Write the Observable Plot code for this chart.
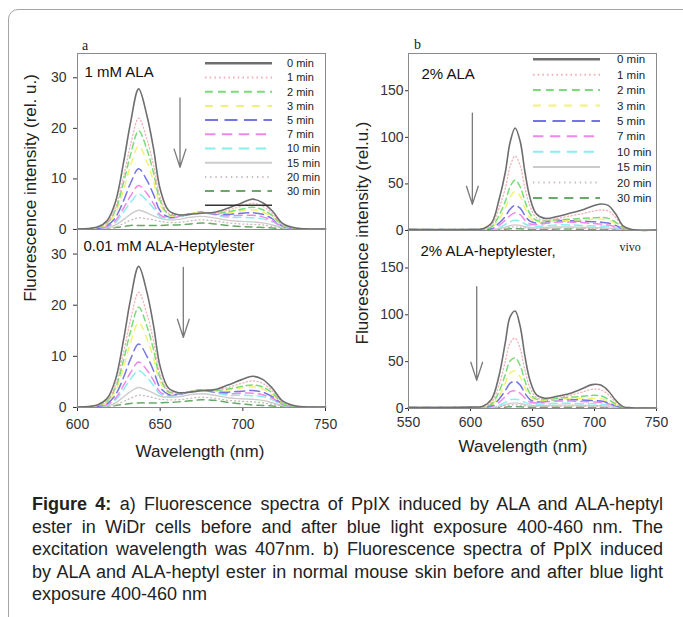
<!DOCTYPE html>
<html><head><meta charset="utf-8">
<script src="https://cdn.jsdelivr.net/npm/d3@7"></script>
<script src="https://cdn.jsdelivr.net/npm/@observablehq/plot@0.6"></script>
<style>
html,body{margin:0;padding:0;background:#fff;}
#fig{position:relative;width:683px;height:617px;overflow:hidden;background:#fff;font-family:"Liberation Sans",Arial,sans-serif;color:#222;}
.abs{position:absolute;}
.rot{position:absolute;transform:translate(-50%,-50%) rotate(-90deg);white-space:nowrap;font-size:17px;}
.xl{position:absolute;transform:translate(-50%,-50%);white-space:nowrap;font-size:17px;}
.pl{position:absolute;font-family:"Liberation Serif","Times New Roman",serif;font-size:14px;line-height:14px;}
#border{position:absolute;left:8px;top:9px;width:700px;height:640px;border:1px solid #a5a5a5;border-radius:10px;}
#cap{position:absolute;left:32px;top:493px;width:631px;font-size:18px;line-height:22.5px;}
#cap div{text-align:justify;text-align-last:justify;}
#cap div.last{text-align:left;text-align-last:left;}
</style>
</head><body>
<div id="fig">
  <div id="border"></div>
</div>
<script>
// ---------- data ----------
const seriesLabels = ["0 min","1 min","2 min","3 min","5 min","7 min","10 min","15 min","20 min","30 min"];

// panel a: wavelength grid (nm)
const gridA = [600, 612, 618, 623, 628, 632, 637, 642, 646, 650, 655, 661, 668, 675, 683, 691, 699, 706, 712, 718, 724, 732, 750];
// 1 mM ALA (WiDr cells)
const alaCells = [
  [0.1, 0.5, 1.8, 5.5, 13.5, 21, 27.8, 22.5, 16, 8, 3.8, 2.9, 3.0, 3.2, 3.4, 4.2, 5.2, 6.0, 5.3, 3.6, 1.2, 0.3, 0.1],
  [0.1, 0.4, 1.4, 4.4, 10.7, 16.6, 22, 17.8, 12.7, 6.4, 3.2, 2.9, 3.1, 3.3, 3.3, 3.8, 4.6, 5.2, 4.6, 3.1, 1.0, 0.3, 0.1],
  [0.1, 0.4, 1.3, 3.9, 9.5, 14.7, 19.5, 15.8, 11.2, 5.7, 3.0, 2.8, 3.1, 3.3, 3.2, 3.5, 4.0, 4.4, 3.9, 2.7, 0.9, 0.2, 0.1],
  [0.1, 0.3, 1.1, 3.3, 8, 12.5, 16.5, 13.4, 9.5, 4.9, 2.8, 2.7, 3.1, 3.4, 3.2, 3.3, 3.7, 3.9, 3.5, 2.4, 0.8, 0.2, 0.1],
  [0.1, 0.2, 0.8, 2.4, 5.8, 9.1, 12, 9.7, 6.9, 3.7, 2.5, 2.6, 3.1, 3.4, 3.1, 3.0, 3.2, 3.3, 3.0, 2.1, 0.7, 0.2, 0.1],
  [0.1, 0.2, 0.6, 1.8, 4.3, 6.6, 8.7, 7.1, 5.1, 2.9, 2.3, 2.5, 3.1, 3.4, 3.0, 2.7, 2.8, 2.8, 2.5, 1.7, 0.6, 0.2, 0.1],
  [0.1, 0.1, 0.5, 1.4, 3.5, 5.3, 7.0, 5.7, 4.2, 2.5, 2.2, 2.4, 3.0, 3.3, 2.9, 2.4, 2.4, 2.3, 2.1, 1.5, 0.5, 0.1, 0.1],
  [0.1, 0.1, 0.3, 0.9, 2.0, 3.0, 3.8, 3.3, 2.7, 2.2, 1.9, 2.0, 2.4, 2.6, 2.3, 1.8, 1.6, 1.5, 1.3, 0.9, 0.4, 0.1, 0.1],
  [0.1, 0.1, 0.2, 0.5, 1.2, 1.8, 2.3, 2.1, 1.9, 1.6, 1.4, 1.4, 1.7, 1.9, 1.7, 1.3, 1.1, 1.0, 0.9, 0.6, 0.3, 0.1, 0.05],
  [0.05, 0.1, 0.2, 0.4, 0.6, 0.8, 0.8, 0.8, 0.8, 0.8, 0.9, 0.9, 1.1, 1.3, 1.1, 0.8, 0.6, 0.5, 0.4, 0.3, 0.1, 0.05, 0.05]
];
// 0.01 mM ALA-heptylester (WiDr cells)
const heptylCells = [
  [0.1, 0.5, 1.8, 5.5, 13.5, 21, 27.6, 22.5, 16, 8, 3.8, 2.9, 3.0, 3.3, 3.5, 4.4, 5.4, 6.1, 5.5, 3.7, 1.3, 0.3, 0.1],
  [0.1, 0.4, 1.4, 4.5, 11, 17, 22.5, 18.3, 13, 6.5, 3.3, 2.9, 3.1, 3.3, 3.4, 3.9, 4.7, 5.2, 4.7, 3.2, 1.1, 0.3, 0.1],
  [0.1, 0.4, 1.3, 3.9, 9.5, 14.8, 19.6, 15.9, 11.3, 5.8, 3.1, 2.8, 3.1, 3.4, 3.3, 3.6, 4.1, 4.4, 4.0, 2.8, 0.9, 0.2, 0.1],
  [0.1, 0.3, 1.1, 3.3, 8, 12.6, 16.6, 13.5, 9.6, 5, 2.9, 2.7, 3.1, 3.4, 3.2, 3.4, 3.8, 4.0, 3.6, 2.5, 0.8, 0.2, 0.1],
  [0.1, 0.2, 0.8, 2.5, 6, 9.4, 12.4, 10, 7.2, 3.9, 2.6, 2.6, 3.1, 3.4, 3.1, 3.0, 3.2, 3.3, 3.0, 2.1, 0.7, 0.2, 0.1],
  [0.1, 0.2, 0.6, 1.8, 4.4, 6.8, 8.9, 7.3, 5.3, 3.0, 2.4, 2.5, 3.1, 3.4, 3.0, 2.7, 2.8, 2.8, 2.5, 1.8, 0.6, 0.2, 0.1],
  [0.1, 0.1, 0.5, 1.5, 3.6, 5.5, 7.2, 5.9, 4.3, 2.6, 2.3, 2.4, 3.0, 3.3, 2.9, 2.4, 2.4, 2.3, 2.1, 1.5, 0.5, 0.1, 0.1],
  [0.1, 0.1, 0.3, 0.9, 2.1, 3.1, 3.9, 3.4, 2.8, 2.2, 2.0, 2.1, 2.5, 2.7, 2.4, 1.9, 1.7, 1.6, 1.4, 0.9, 0.4, 0.1, 0.1],
  [0.1, 0.1, 0.2, 0.5, 1.2, 1.8, 2.4, 2.2, 1.9, 1.6, 1.5, 1.5, 1.8, 2.0, 1.8, 1.4, 1.2, 1.1, 0.9, 0.6, 0.3, 0.1, 0.05],
  [0.05, 0.1, 0.2, 0.4, 0.6, 0.8, 0.9, 0.9, 0.9, 0.9, 1.0, 1.1, 1.3, 1.5, 1.4, 1.0, 0.7, 0.5, 0.4, 0.3, 0.1, 0.05, 0.05]
];

// panel b: wavelength grid (nm)
const gridB = [550, 600, 610, 617, 623, 628, 632, 636, 640, 644, 648, 653, 660, 670, 680, 690, 698, 705, 711, 717, 723, 730, 750];
// 2% ALA (mouse skin)
const alaSkin = [
  [1, 1, 2, 8, 33, 62, 95, 110, 96, 62, 35, 18, 13, 15, 18.5, 22, 26, 28.5, 27, 18, 5, 1, 0.5],
  [1, 1, 1.6, 6, 24, 45, 69, 80, 70, 45, 26, 14, 11, 13, 15.5, 18, 20.5, 22, 21, 14, 4, 1, 0.5],
  [1, 1, 1.2, 4, 16, 31, 47, 54, 47, 31, 18, 11, 10.5, 11.5, 12, 13, 13.5, 14, 13, 9, 3, 0.8, 0.5],
  [1, 1, 1, 3, 12, 24, 36, 42, 37, 24, 14, 9.5, 9.5, 10.5, 11, 11.5, 12, 12, 11, 7.5, 2.5, 0.7, 0.5],
  [1, 1, 1, 2, 8, 15, 23, 27, 24, 16, 10, 8, 9, 10.5, 10.5, 10, 9.5, 9, 8, 5.5, 2, 0.6, 0.5],
  [1, 1, 0.8, 1.5, 5.5, 11, 16, 19, 17, 11, 7, 6.5, 7.5, 9, 9, 8.5, 7.5, 7, 6, 4, 1.5, 0.5, 0.5],
  [1, 1, 0.8, 1.2, 3, 6.5, 9.5, 11, 10, 7, 5, 4.5, 5, 6, 6, 5.5, 5, 4.8, 4.2, 3, 1.2, 0.5, 0.5],
  [1, 1, 0.8, 1, 2, 3.5, 5.2, 6, 5.5, 4, 3, 2.8, 3.2, 3.8, 3.8, 3.5, 3.2, 3, 2.6, 2, 0.8, 0.4, 0.4],
  [0.8, 0.8, 0.7, 0.9, 1.5, 2.5, 3.5, 4, 3.7, 2.8, 2.2, 2, 2.3, 2.6, 2.6, 2.4, 2.2, 2, 1.8, 1.3, 0.6, 0.3, 0.3],
  [0.5, 0.5, 0.5, 0.6, 0.9, 1.3, 1.8, 2, 1.9, 1.5, 1.2, 1.1, 1.3, 1.5, 1.5, 1.4, 1.2, 1.1, 1, 0.8, 0.4, 0.2, 0.2]
];
// 2% ALA-heptylester (mouse skin)
const heptylSkin = [
  [1, 1.5, 2.5, 10, 35, 70, 98, 104, 88, 55, 30, 15, 11, 13, 16, 21, 25.5, 25, 19, 9, 2, 0.8, 0.5],
  [1, 1.2, 2, 7, 25, 50, 70, 75, 64, 40, 22, 12, 10, 12, 14, 17.5, 20.5, 20, 15, 7, 1.7, 0.7, 0.5],
  [1, 1, 1.5, 5, 18, 36, 51, 54, 46, 29, 16, 10, 9.5, 11, 12, 13, 14, 13.5, 10, 5, 1.3, 0.6, 0.5],
  [1, 1, 1.2, 4, 13, 27, 38, 40, 34, 22, 12.5, 8.5, 8.5, 10, 10.5, 11, 11, 10.5, 8, 4, 1.1, 0.5, 0.5],
  [1, 1, 1, 3, 10, 19, 27, 29, 25, 16, 9.5, 7, 8, 9.5, 9.5, 9, 8.5, 8, 6, 3, 1, 0.5, 0.5],
  [1, 1, 0.9, 2, 6.5, 12.5, 18, 19, 16.5, 11, 7, 6, 7, 8, 8, 7.5, 7, 6.5, 5, 2.5, 0.9, 0.5, 0.5],
  [1, 1, 0.8, 1.5, 3.5, 6.5, 9.3, 10, 9, 6.5, 5, 4.5, 5, 5.5, 5.5, 5.2, 5, 4.6, 3.5, 2, 0.8, 0.4, 0.4],
  [1, 1, 0.8, 1.1, 2.2, 4, 5.5, 6, 5.5, 4.2, 3.3, 3, 3.3, 3.6, 3.6, 3.4, 3.1, 2.9, 2.2, 1.3, 0.6, 0.4, 0.4],
  [0.8, 0.8, 0.7, 0.9, 1.6, 2.7, 3.6, 4, 3.7, 2.9, 2.3, 2.1, 2.3, 2.5, 2.5, 2.3, 2.1, 1.9, 1.5, 0.9, 0.4, 0.3, 0.3],
  [0.5, 0.5, 0.5, 0.6, 0.9, 1.4, 1.8, 2, 1.9, 1.6, 1.3, 1.2, 1.3, 1.4, 1.4, 1.3, 1.2, 1.1, 0.9, 0.6, 0.3, 0.2, 0.2]
];

// arrows (wavelength, from value, to value): a-top, a-bottom, b-top, b-bottom
const arrowWave = [662, 664, 601.5, 605];
const arrowFrom = [26, 27.4, 126, 130];
const arrowTo = [12.3, 13.7, 28, 30];

const panelTitles = ["1 mM ALA", "0.01 mM ALA-Heptylester", "2% ALA", "2% ALA-heptylester,"];
const ticksAx = [600, 650, 700, 750];
const ticksAy = [0, 10, 20, 30];
const ticksBx = [550, 600, 650, 700, 750];
const ticksBy = [0, 50, 100, 150];

// ---------- styles ----------
const seriesColors = ["#6e6e6e","#f2b0b8","#78dc78","#f2f270","#7474e4","#f088ec","#88eeee","#cccccc","#c9b9b9","#66aa66"];
const seriesDash = [null,"1.2,2.4","6,4","6,6","10,5","8,5","8,5",null,"1,3","7,5"];
const seriesWidth = [1.6,1.3,1.5,1.5,1.5,1.5,1.5,1.4,1.3,1.5];

const fig = document.getElementById("fig");
const FONT = '"Liberation Sans", Arial, sans-serif';

function makePanel(o) {
  const rows = [];
  o.values.forEach((arr, s) => arr.forEach((v, i) => rows.push({s, w: o.grid[i], v})));
  const marks = [];
  for (let s = seriesLabels.length - 1; s >= 0; s--) {
    marks.push(Plot.line(rows.filter(d => d.s === s), {
      x: "w", y: "v", stroke: seriesColors[s], strokeWidth: seriesWidth[s],
      strokeDasharray: seriesDash[s] || undefined, curve: "catmull-rom"
    }));
  }
  const ai = o.arrowIndex;
  marks.push(Plot.arrow([{x: arrowWave[ai], a: arrowFrom[ai], b: arrowTo[ai]}], {
    x1: "x", x2: "x", y1: "a", y2: "b", stroke: "#7a7a7a", strokeWidth: 1.3,
    headAngle: 36, headLength: 22
  }));
  marks.push(Plot.text([panelTitles[ai]], {
    frameAnchor: "top-left", textAnchor: "start", lineAnchor: "top",
    dx: o.tdx, dy: o.tdy, fontSize: 15, fill: "#111"
  }));
  if (o.extraText) marks.push(Plot.text([o.extraText], {
    frameAnchor: "top-right", textAnchor: "start", lineAnchor: "top",
    dx: -37, dy: 12, fontSize: 12, fontFamily: '"Liberation Serif", serif', fill: "#222"
  }));
  marks.push(Plot.frame({stroke: "#8a8a8a"}));
  const chart = Plot.plot({
    width: o.width, height: o.height,
    marginTop: o.mt, marginBottom: o.mb, marginLeft: o.ml, marginRight: o.mr,
    x: {domain: o.xDomain, ticks: o.xTicks, tickSize: o.xts, tickPadding: o.xtp, label: null,
        axis: o.showX ? "bottom" : null, tickFormat: d => String(d)},
    y: {domain: o.yDomain, ticks: o.yTicks, tickSize: o.yts, tickPadding: o.ytp, label: null,
        tickFormat: d => String(d)},
    style: {overflow: "visible", fontFamily: FONT, fontSize: "14px", color: "#333", background: "transparent"},
    marks
  });
  const wrap = document.createElement("div");
  wrap.className = "abs";
  wrap.style.left = o.left + "px";
  wrap.style.top = o.top + "px";
  wrap.appendChild(chart);
  fig.appendChild(wrap);
}

// panel a
makePanel({left: 0, top: 0, width: 345, height: 229, mt: 53, mb: 0, ml: 77, mr: 20,
  xDomain: [600, 750], xTicks: ticksAx, showX: false, xts: 4, xtp: 8,
  yDomain: [0, 34.8], yTicks: ticksAy, yts: 4, ytp: 7,
  grid: gridA, values: alaCells, arrowIndex: 0, tdx: 7, tdy: 13});
makePanel({left: 0, top: 229, width: 345, height: 238, mt: 0, mb: 60, ml: 77, mr: 20,
  xDomain: [600, 750], xTicks: ticksAx, showX: true, xts: 4, xtp: 8,
  yDomain: [0, 34.8], yTicks: ticksAy, yts: 4, ytp: 7,
  grid: gridA, values: heptylCells, arrowIndex: 1, tdx: 6, tdy: 11});
// panel b
makePanel({left: 345, top: 0, width: 338, height: 230, mt: 53, mb: 0, ml: 63, mr: 27,
  xDomain: [550, 750], xTicks: ticksBx, showX: false, xts: 3, xtp: 6,
  yDomain: [0, 190], yTicks: ticksBy, yts: 3, ytp: 2,
  grid: gridB, values: alaSkin, arrowIndex: 2, tdx: 13, tdy: 15});
makePanel({left: 345, top: 230, width: 338, height: 238, mt: 0, mb: 60, ml: 63, mr: 27,
  xDomain: [550, 750], xTicks: ticksBx, showX: true, xts: 3, xtp: 6,
  yDomain: [0, 190], yTicks: ticksBy, yts: 3, ytp: 2,
  grid: gridB, values: heptylSkin, arrowIndex: 3, tdx: 12, tdy: 15, extraText: "vivo"});

// legends (inside the top plots)
function legend(left, top, x1, x2, xt, y0, dy, fs, extraLine) {
  const svg = d3.select(fig).append("svg")
    .attr("class", "abs").style("left", left + "px").style("top", top + "px")
    .attr("width", 345).attr("height", 240).style("overflow", "visible")
    .style("font-family", FONT);
  seriesLabels.forEach((lab, i) => {
    const y = y0 + i * dy;
    svg.append("line").attr("x1", x1).attr("x2", x2).attr("y1", y).attr("y2", y)
      .attr("stroke", seriesColors[i]).attr("stroke-width", i === 0 ? 2.4 : 2)
      .attr("stroke-dasharray", seriesDash[i] ? seriesDash[i].split(",").map(v => v * 1.3).join(",") : null);
    svg.append("text").attr("x", xt).attr("y", y).attr("dy", "0.35em")
      .attr("font-size", fs).attr("fill", "#222").text(lab);
  });
  if (extraLine) {
    const y = y0 + seriesLabels.length * dy;
    svg.append("line").attr("x1", x1).attr("x2", x2).attr("y1", y).attr("y2", y)
      .attr("stroke", "#333").attr("stroke-width", 1.4);
  }
}
legend(0, 0, 205, 272, 287, 63.3, 14.2, 11, true);
legend(345, 0, 188, 255, 272, 59.3, 15.4, 11.5, false);

// panel letters, axis labels
function addDiv(cls, text, css) {
  const d = document.createElement("div");
  d.className = cls; d.textContent = text;
  Object.assign(d.style, css);
  fig.appendChild(d);
}
addDiv("pl", "a", {left: "82px", top: "39px"});
addDiv("pl", "b", {left: "414px", top: "38px"});
addDiv("rot", "Fluorescence intensity (rel. u.)", {left: "30.5px", top: "187.5px"});
addDiv("rot", "Fluorescence intensity (rel.u.)", {left: "363px", top: "232.5px"});
addDiv("xl", "Wavelength (nm)", {left: "200px", top: "451.5px"});
addDiv("xl", "Wavelength (nm)", {left: "523px", top: "446.5px"});

// caption
const capLines = [
  ["Figure 4:", " a) Fluorescence spectra of PpIX induced by ALA and ALA-heptyl"],
  ["", "ester in WiDr cells before and after blue light exposure 400-460 nm.  The"],
  ["", "excitation wavelength was 407nm. b) Fluorescence spectra of PpIX induced"],
  ["", "by ALA and ALA-heptyl ester in normal mouse skin before and after blue light"],
  ["", "exposure 400-460 nm"]
];
const cap = document.createElement("div");
cap.id = "cap";
capLines.forEach((l, i) => {
  const d = document.createElement("div");
  if (i === capLines.length - 1) d.className = "last";
  if (l[0]) { const b = document.createElement("b"); b.textContent = l[0]; d.appendChild(b); }
  d.appendChild(document.createTextNode(l[1]));
  cap.appendChild(d);
});
fig.appendChild(cap);
</script>
</body></html>
